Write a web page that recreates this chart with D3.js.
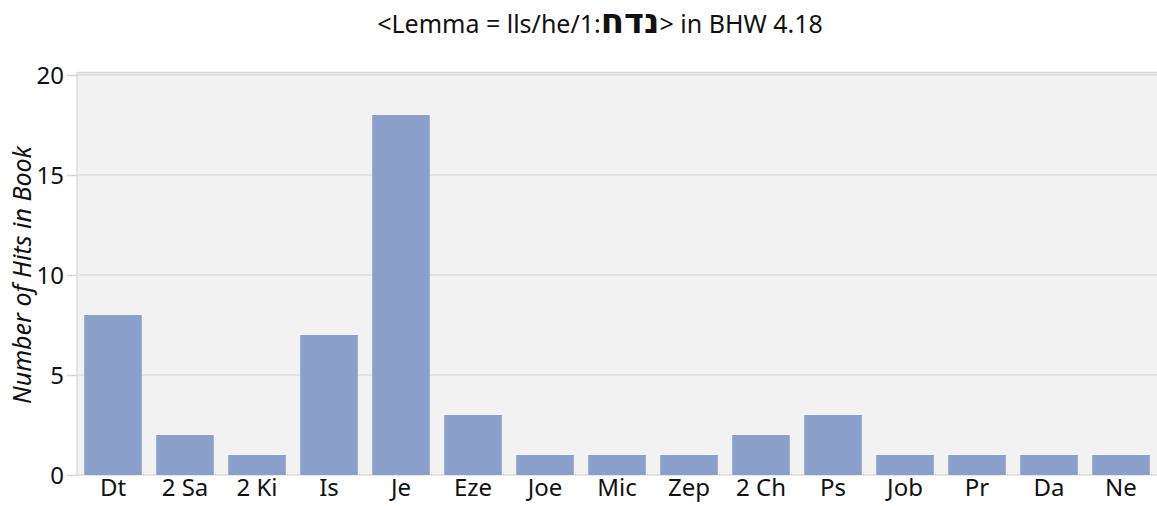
<!DOCTYPE html>
<html><head><meta charset="utf-8">
<script src="https://cdn.jsdelivr.net/npm/d3@7"></script>
<style>body{margin:0;background:#fff}svg{display:block}</style>
</head><body>
<svg id="c" width="1157" height="506"></svg>
<script>
const books = ["Dt","2 Sa","2 Ki","Is","Je","Eze","Joe","Mic","Zep","2 Ch","Ps","Job","Pr","Da","Ne"];
const hits = [8,2,1,7,18,3,1,1,1,2,3,1,1,1,1];
const yTicks = [0,5,10,15,20];
const titleParts = ["<Lemma = lls/he/1:", "נדח", "> in BHW 4.18"];
const yTitle = "Number of Hits in Book";

const font = "'Noto Sans', 'Open Sans', sans-serif";
const svg = d3.select("#c");
const m = {l:77, r:1157, t:75, b:475};
const x = d3.scaleBand().domain(books).range([m.l, m.r]).paddingInner(0.2).paddingOuter(0.1);
const y = d3.scaleLinear().domain([0,20]).range([m.b, m.t]);

svg.append("rect").attr("x", m.l).attr("y", m.t-3).attr("width", m.r-m.l).attr("height", m.b-m.t+3).attr("fill","#f2f2f2");
svg.append("line").attr("x1",m.l).attr("x2",m.r).attr("y1",m.t-2.5).attr("y2",m.t-2.5).attr("stroke","#d6d6d6").attr("stroke-width",1.5);
svg.append("line").attr("x1",m.l).attr("x2",m.l).attr("y1",m.t-3).attr("y2",m.b).attr("stroke","#dcdcdc").attr("stroke-width",1.5);

svg.append("g").selectAll("line").data(yTicks).join("line")
  .attr("x1",m.l).attr("x2",m.r).attr("y1",d=>y(d)).attr("y2",d=>y(d))
  .attr("stroke","#dcdcdc").attr("stroke-width",1.5);

svg.append("g").selectAll("rect").data(hits).join("rect")
  .attr("x",(d,i)=>x(books[i])).attr("width",x.bandwidth())
  .attr("y",d=>y(d)).attr("height",d=>y(0)-y(d))
  .attr("fill","#8aa0cb");

const ya = svg.append("g").attr("transform",`translate(${m.l},0)`)
  .call(d3.axisLeft(y).tickValues(yTicks).tickSize(10).tickPadding(3));
ya.select(".domain").remove();
ya.selectAll("line").attr("stroke","#d6d6d6").attr("stroke-width",1.5);
ya.selectAll("text").attr("font-family",font).attr("font-size",24).attr("fill","#111").attr("dy","0.35em");

const xa = svg.append("g").attr("transform",`translate(0,${m.b})`)
  .call(d3.axisBottom(x).tickSize(0).tickPadding(4));
xa.select(".domain").remove();
xa.selectAll("text").attr("font-family",font).attr("font-size",24).attr("fill","#111");

const t = svg.append("text").attr("x",600).attr("y",33).attr("text-anchor","middle")
  .attr("font-family",font).attr("font-size",25).attr("fill","#111");
t.append("tspan").text(titleParts[0]);
t.append("tspan").attr("font-family","'DejaVu Sans', sans-serif").attr("font-size",34).attr("font-weight","600").text(titleParts[1]);
t.append("tspan").text(titleParts[2]);

svg.append("text").attr("transform",`translate(31,${(m.t+m.b)/2}) rotate(-90)`)
  .attr("text-anchor","middle").attr("font-family",font).attr("font-style","italic")
  .attr("font-size",25).attr("fill","#111").text(yTitle);
</script>
</body></html>
